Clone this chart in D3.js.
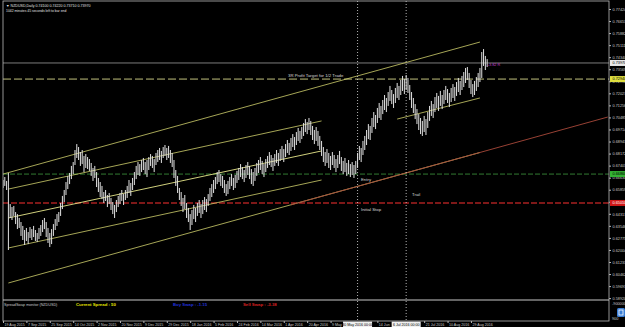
<!DOCTYPE html>
<html>
<head>
<meta charset="utf-8">
<script src="https://d3js.org/d3.v7.min.js"></script>
<style>
html, body { margin: 0; padding: 0; background: #000; overflow: hidden; }
svg { display: block; }
text { font-family: "Liberation Sans", Arial, sans-serif; }
</style>
</head>
<body>
<div id="chart"></div>
<script>
// NZDUSD daily bars
var symbol = 'NZDUSD';
var highs = [
  0.6648,0.6667,0.6642,0.6693,0.6494,0.6475,0.6482,0.6443,0.6430,0.6405,
  0.6379,0.6354,0.6328,0.6341,0.6315,0.6347,0.6334,0.6354,0.6328,0.6309,
  0.6341,0.6360,0.6392,0.6405,0.6379,0.6341,0.6309,0.6334,0.6366,0.6398,
  0.6430,0.6443,0.6501,0.6546,0.6584,0.6635,0.6674,0.6693,0.6738,0.6763,
  0.6840,0.6878,0.6859,0.6827,0.6840,0.6802,0.6814,0.6795,0.6782,0.6757,
  0.6725,0.6738,0.6699,0.6661,0.6635,0.6610,0.6571,0.6584,0.6552,0.6565,
  0.6533,0.6507,0.6488,0.6520,0.6546,0.6565,0.6584,0.6558,0.6584,0.6610,
  0.6648,0.6629,0.6661,0.6699,0.6738,0.6763,0.6750,0.6776,0.6789,0.6763,
  0.6776,0.6795,0.6814,0.6802,0.6782,0.6821,0.6840,0.6853,0.6834,0.6859,
  0.6872,0.6853,0.6866,0.6840,0.6821,0.6776,0.6712,0.6674,0.6597,0.6571,
  0.6533,0.6552,0.6501,0.6469,0.6430,0.6456,0.6488,0.6469,0.6501,0.6520,
  0.6494,0.6520,0.6539,0.6526,0.6558,0.6597,0.6622,0.6648,0.6667,0.6699,
  0.6712,0.6686,0.6674,0.6648,0.6622,0.6642,0.6667,0.6686,0.6661,0.6680,
  0.6706,0.6725,0.6750,0.6731,0.6712,0.6744,0.6763,0.6738,0.6718,0.6699,
  0.6725,0.6757,0.6776,0.6795,0.6770,0.6750,0.6782,0.6802,0.6827,0.6808,
  0.6789,0.6814,0.6840,0.6821,0.6846,0.6866,0.6846,0.6878,0.6904,0.6885,
  0.6917,0.6942,0.6923,0.6955,0.6981,0.6962,0.6987,0.7013,0.7038,0.7019,
  0.7045,0.7026,0.6994,0.6968,0.6987,0.6962,0.6930,0.6898,0.6859,0.6827,
  0.6846,0.6821,0.6802,0.6827,0.6808,0.6782,0.6808,0.6834,0.6795,0.6770,
  0.6789,0.6757,0.6776,0.6750,0.6763,0.6744,0.6770,0.6821,0.6866,0.6853,
  0.6898,0.6930,0.6968,0.7006,0.6994,0.7045,0.7083,0.7064,0.7109,0.7141,
  0.7122,0.7160,0.7192,0.7173,0.7211,0.7250,0.7224,0.7198,0.7237,0.7269,
  0.7250,0.7288,0.7314,0.7294,0.7320,0.7301,0.7256,0.7211,0.7173,0.7134,
  0.7102,0.7070,0.7045,0.7026,0.7058,0.7038,0.7083,0.7122,0.7154,0.7134,
  0.7179,0.7205,0.7186,0.7218,0.7192,0.7224,0.7250,0.7230,0.7205,0.7237,
  0.7262,0.7243,0.7275,0.7301,0.7282,0.7314,0.7339,0.7365,0.7371,0.7333,
  0.7288,0.7262,0.7282,0.7307,0.7333,0.7365,0.7467,0.7486,0.7442,0.7422
];
var lows = [
  0.6597,0.6610,0.6584,0.6200,0.6405,0.6392,0.6418,0.6366,0.6334,0.6341,
  0.6290,0.6264,0.6232,0.6258,0.6238,0.6277,0.6264,0.6283,0.6258,0.6251,
  0.6270,0.6290,0.6315,0.6334,0.6283,0.6245,0.6219,0.6238,0.6290,0.6328,
  0.6354,0.6379,0.6418,0.6462,0.6507,0.6552,0.6590,0.6622,0.6654,0.6686,
  0.6744,0.6789,0.6776,0.6738,0.6750,0.6699,0.6725,0.6718,0.6706,0.6674,
  0.6642,0.6661,0.6603,0.6571,0.6539,0.6526,0.6501,0.6514,0.6475,0.6494,
  0.6456,0.6430,0.6405,0.6443,0.6475,0.6494,0.6514,0.6488,0.6520,0.6533,
  0.6565,0.6546,0.6584,0.6616,0.6654,0.6680,0.6674,0.6699,0.6712,0.6686,
  0.6667,0.6712,0.6738,0.6725,0.6699,0.6744,0.6763,0.6776,0.6757,0.6789,
  0.6802,0.6776,0.6789,0.6757,0.6731,0.6661,0.6610,0.6565,0.6520,0.6482,
  0.6443,0.6462,0.6405,0.6379,0.6328,0.6360,0.6398,0.6379,0.6418,0.6437,
  0.6405,0.6430,0.6456,0.6443,0.6482,0.6514,0.6539,0.6565,0.6590,0.6622,
  0.6635,0.6610,0.6597,0.6565,0.6546,0.6558,0.6590,0.6610,0.6584,0.6597,
  0.6629,0.6648,0.6667,0.6654,0.6635,0.6661,0.6680,0.6654,0.6622,0.6610,
  0.6642,0.6674,0.6693,0.6712,0.6686,0.6667,0.6699,0.6725,0.6744,0.6731,
  0.6706,0.6738,0.6757,0.6738,0.6770,0.6782,0.6763,0.6795,0.6821,0.6808,
  0.6834,0.6859,0.6840,0.6872,0.6898,0.6885,0.6910,0.6930,0.6955,0.6942,
  0.6968,0.6936,0.6904,0.6878,0.6898,0.6866,0.6840,0.6802,0.6763,0.6738,
  0.6757,0.6725,0.6712,0.6744,0.6725,0.6699,0.6725,0.6750,0.6706,0.6686,
  0.6699,0.6674,0.6686,0.6667,0.6680,0.6661,0.6686,0.6725,0.6776,0.6763,
  0.6808,0.6840,0.6872,0.6910,0.6904,0.6949,0.6987,0.6974,0.7013,0.7045,
  0.7032,0.7070,0.7096,0.7083,0.7122,0.7154,0.7134,0.7109,0.7141,0.7173,
  0.7160,0.7192,0.7218,0.7198,0.7224,0.7205,0.7160,0.7109,0.7077,0.7038,
  0.7006,0.6968,0.6942,0.6930,0.6955,0.6936,0.6981,0.7026,0.7058,0.7045,
  0.7083,0.7109,0.7090,0.7122,0.7102,0.7134,0.7160,0.7141,0.7115,0.7147,
  0.7173,0.7154,0.7186,0.7211,0.7192,0.7224,0.7243,0.7269,0.7288,0.7237,
  0.7198,0.7179,0.7192,0.7218,0.7243,0.7275,0.7301,0.7378,0.7352,0.7371
];
var lastOpen = 0.74100;

var dateLabels = ['19 Aug 2015','7 Sep 2015','25 Sep 2015','14 Oct 2015','2 Nov 2015','20 Nov 2015',
  '9 Dec 2015','29 Dec 2015','18 Jan 2016','5 Feb 2016','24 Feb 2016','14 Mar 2016','1 Apr 2016',
  '20 Apr 2016','9 May 2016','27 May 2016','14 Jun 2016','1 Jul 2016','21 Jul 2016','10 Aug 2016','29 Aug 2016'];
var barsPerLabel = 13;

var priceTicks = [0.77424,0.76653,0.75882,0.75111,0.74340,0.73569,0.72798,0.72027,0.71256,0.70485,
  0.69714,0.68943,0.68172,0.67401,0.66630,0.65859,0.65088,0.64317,0.63546,0.62775,
  0.62004,0.61233,0.60462,0.59691,0.58920];

// trade levels
var bidPrice = 0.73970, targetPrice = 0.72940, entryPrice = 0.66860, stopPrice = 0.65010;
var entryBar = 197, trailBar = 224;
var entryTime = '30 May 2016 00:00', trailTime = '6 Jul 2016 00:00';

// trend lines: [bar, price] pairs
var outerUpper = [[0, 0.6686], [265, 0.7531]];
var outerLower = [[3, 0.5989], [265, 0.6824]];
var innerUpper = [[3, 0.6590], [177, 0.7026]];
var innerMid   = [[3, 0.6405], [177, 0.6834]];
var innerLower = [[3, 0.6213], [177, 0.6648]];
var recentLower = [[219, 0.7038], [265, 0.7173]];
var trailLine  = [[160, 0.6489], [336, 0.7051]];

var spread = 50, buySwap = -1.15, sellSwap = -3.38;
var rMultiple = '+3.82 R';

var W = 625, H = 327;
var plotL = 3, plotR = 609, plotT = 1, mainB = 300, subB = 321;

var svg = d3.select('#chart').append('svg')
    .attr('width', W).attr('height', H)
    .style('background', '#000');

var x = d3.scaleLinear().domain([0, 336.7]).range([plotL, plotR]);
var y = d3.scaleLinear().domain([0.5880, 0.77936]).range([mainB, plotT]);

svg.append('clipPath').attr('id', 'mainClip')
  .append('rect').attr('x', plotL).attr('y', plotT).attr('width', plotR - plotL).attr('height', mainB - plotT);

var main = svg.append('g').attr('clip-path', 'url(#mainClip)');

// horizontal levels
var hline = function(price, color, dash, width) {
    main.append('line')
        .attr('x1', plotL).attr('x2', plotR)
        .attr('y1', y(price)).attr('y2', y(price))
        .attr('stroke', color).attr('stroke-width', width || 0.8)
        .attr('stroke-dasharray', dash);
}
hline(bidPrice, '#9a9a9a', null, 0.8);
hline(targetPrice, '#d6d68a', '8,3', 0.9);
hline(entryPrice, '#3f9a3f', '5,2', 0.8);
hline(stopPrice, '#a82020', '6,2', 1.6);

// trend lines
var tline = function(pts, color, width, dash) {
    main.append('line')
        .attr('x1', x(pts[0][0])).attr('y1', y(pts[0][1]))
        .attr('x2', x(pts[1][0])).attr('y2', y(pts[1][1]))
        .attr('stroke', color).attr('stroke-width', width)
        .attr('stroke-dasharray', dash);
}
tline(outerUpper, '#cfcf6c', 0.8);
tline(outerLower, '#cfcf6c', 0.8);
tline(innerUpper, '#cfcf6c', 0.8);
tline(innerMid, '#e6e68a', 0.9);
tline(innerLower, '#cfcf6c', 0.8);
tline(recentLower, '#cfcf6c', 0.8);
tline(trailLine, '#a8483a', 0.9);

// bars
main.selectAll('line.bar').data(highs)
  .enter().append('line')
    .attr('class', 'bar')
    .attr('x1', function(d, i) { return x(i) })
    .attr('x2', function(d, i) { return x(i) })
    .attr('y1', function(d) { return y(d) })
    .attr('y2', function(d, i) { return y(lows[i]) })
    .attr('stroke', '#e2e2e2')
    .attr('stroke-width', 1);

// annotations
var note = function(px, py, txt, color, size) {
    svg.append('text').attr('x', px).attr('y', py)
        .attr('fill', color || '#d8d8d8')
        .style('font-size', (size || 4.3) + 'px')
        .text(txt);
}
note(288, 76.5, '3R Profit Target  for 1/2 Trade');
note(361, 180.5, 'Entry');
note(412, 195.5, 'Trail');
note(361, 210.5, 'Initial Stop');
note(x(266) + 5, y(bidPrice) + 3, rMultiple, '#c040c8', 3.8);

// vertical dotted lines
[entryBar, trailBar].forEach(function(b) {
    svg.append('line')
        .attr('x1', x(b)).attr('x2', x(b))
        .attr('y1', plotT).attr('y2', subB)
        .attr('stroke', '#e0e0e0').attr('stroke-width', 0.8)
        .attr('stroke-dasharray', '1,2');
})

// frame
svg.append('rect')
    .attr('x', plotL).attr('y', plotT)
    .attr('width', plotR - plotL).attr('height', subB - plotT)
    .attr('fill', 'none').attr('stroke', '#b8b8b8').attr('stroke-width', 0.8);
svg.append('line')
    .attr('x1', plotL).attr('x2', plotR).attr('y1', mainB).attr('y2', mainB)
    .attr('stroke', '#c8c8c8').attr('stroke-width', 1);

// title
var lastI = highs.length - 1;
note(6, 6.5, '\u25BC ' + symbol + ',Daily  ' + lastOpen.toFixed(5) + ' ' + highs[lastI].toFixed(5) + ' ' +
    lows[lastI].toFixed(5) + ' ' + bidPrice.toFixed(5), '#e0e0e0', 3.6);
note(6, 11.5, '1042 minutes 45 seconds left to bar end', '#e0e0e0', 3.4);

// price axis
var yAxis = svg.append('g')
    .attr('transform', 'translate(' + plotR + ',0)')
    .call(d3.axisRight(y).tickValues(priceTicks).tickSize(2).tickPadding(1.5)
        .tickFormat(function(d) { return d.toFixed(5) }));
yAxis.select('.domain').remove();
yAxis.selectAll('line').attr('stroke', '#b8b8b8');
yAxis.selectAll('text').attr('fill', '#c8c8c8').style('font-size', '3.8px')
    .style('font-family', '"Liberation Sans", Arial, sans-serif');

// price boxes on the axis
var box = function(price, fill, txtColor) {
    var g = svg.append('g').attr('transform', 'translate(' + (plotR + 1) + ',' + y(price) + ')');
    g.append('rect').attr('x', 0).attr('y', -3).attr('width', 17).attr('height', 6).attr('fill', fill);
    g.append('text').attr('x', 2.5).attr('y', 1.4).attr('fill', txtColor)
        .style('font-size', '3.8px').text(price.toFixed(5));
}
box(bidPrice, '#e8e8e8', '#000');
box(targetPrice, '#e0e040', '#000');
box(entryPrice, '#33b233', '#000');
box(stopPrice, '#d01818', '#fff');

// sub window
note(4, 305.5, 'SpreadSwap monitor (' + symbol + ')', '#c8c8c8', 3.7);
svg.append('text').attr('x', 76).attr('y', 305.8).attr('fill', '#e6e600')
    .style('font-size', '4.3px').style('font-weight', 'bold')
    .text('Current Spread :  ' + spread);
svg.append('text').attr('x', 173).attr('y', 305.8).attr('fill', '#2030d8')
    .style('font-size', '4.3px').style('font-weight', 'bold')
    .text('Buy Swap : ' + buySwap.toFixed(2));
svg.append('text').attr('x', 243).attr('y', 305.8).attr('fill', '#d82020')
    .style('font-size', '4.3px').style('font-weight', 'bold')
    .text('Sell Swap : ' + sellSwap.toFixed(2));
note(612, 304.5, '-900000', '#c8c8c8', 3.8);
note(612, 319.5, '900', '#c8c8c8', 3.8);
svg.append('rect').attr('x', 617).attr('y', 308).attr('width', 8).attr('height', 9).attr('rx', 1.5)
    .attr('fill', '#3b7fd6');
svg.append('rect').attr('x', 619).attr('y', 310).attr('width', 4).attr('height', 5)
    .attr('fill', 'none').attr('stroke', '#fff').attr('stroke-width', 0.8);

// time axis; labels hidden under the highlighted line times are not drawn,
// labels running into a highlight box are cut short as in the terminal
var highlighted = [[entryBar, entryTime], [trailBar, trailTime]];
var boxHalf = 14.5;
var tickBars = dateLabels.map(function(d, i) { return i * barsPerLabel });
var visibleTicks = tickBars.filter(function(b) {
    return !highlighted.some(function(h) { return Math.abs(x(b) - x(h[0])) < 16 });
});
var labelText = function(b) {
    var txt = dateLabels[tickBars.indexOf(b)];
    highlighted.forEach(function(h) {
        var room = x(h[0]) - boxHalf - x(b) - 2;
        if (room > 0 && room < 21) txt = txt.slice(0, Math.floor(room / 1.9));
    })
    return txt;
}
var xAxis = svg.append('g')
    .attr('transform', 'translate(0,' + subB + ')')
    .call(d3.axisBottom(x).tickValues(visibleTicks).tickSize(2).tickPadding(0.6)
        .tickFormat(labelText));
xAxis.select('.domain').remove();
xAxis.selectAll('line').attr('stroke', '#b8b8b8');
xAxis.selectAll('text').attr('fill', '#c8c8c8').attr('text-anchor', 'start').attr('x', 1)
    .style('font-size', '3.6px').style('font-family', '"Liberation Sans", Arial, sans-serif');

highlighted.forEach(function(v) {
    var g = svg.append('g').attr('transform', 'translate(' + x(v[0]) + ',' + subB + ')');
    g.append('rect').attr('x', -boxHalf).attr('y', 0.6).attr('width', boxHalf * 2).attr('height', 5.6).attr('fill', '#f0f0f0');
    g.append('text').attr('x', 0).attr('y', 4.6).attr('text-anchor', 'middle').attr('fill', '#000')
        .style('font-size', '3.6px').text(v[1]);
})
</script>
</body>
</html>
